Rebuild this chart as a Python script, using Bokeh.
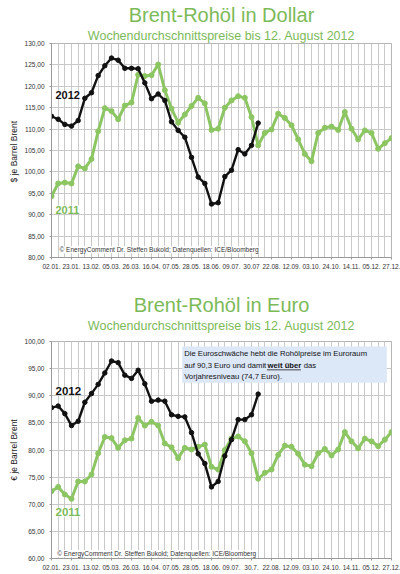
from bokeh.plotting import figure
from bokeh.models import Range1d, FixedTicker, Label, BoxAnnotation, Title
from bokeh.layouts import column
from bokeh.embed import file_html
from bokeh.resources import INLINE

# ---------------- data ----------------
weeks = list(range(52))

usd_2011 = [94.3, 97.3, 97.5, 97.3, 101.3, 100.8, 103.0, 109.5, 114.9, 114.2,
            112.3, 115.5, 116.2, 122.7, 122.4, 122.6, 125.1, 119.1, 114.8, 111.5,
            113.4, 115.4, 117.3, 116.0, 109.8, 110.1, 115.0, 116.7, 117.7, 117.3,
            112.8, 106.2, 109.1, 109.9, 113.6, 112.6, 110.9, 107.6, 104.2, 102.5,
            109.1, 110.3, 110.6, 109.8, 114.0, 110.1, 107.6, 109.7, 109.1, 105.4,
            106.7, 107.9]
usd_2012 = [113.0, 112.3, 111.1, 110.7, 112.0, 117.2, 118.5, 122.5, 124.8, 126.6,
            126.1, 124.2, 124.2, 124.1, 120.8, 117.1, 118.2, 116.7, 111.7, 109.7,
            108.1, 103.4, 98.8, 97.3, 92.5, 92.8, 98.9, 100.4, 105.2, 104.2,
            106.2, 111.4]

eur_2011 = [72.4, 73.2, 71.8, 71.0, 74.2, 74.2, 75.5, 79.4, 82.4, 82.2,
            80.4, 81.8, 82.1, 85.9, 84.5, 85.2, 84.5, 81.2, 80.5, 78.5,
            80.4, 80.1, 80.6, 81.0, 76.9, 76.4, 80.0, 82.1, 82.5, 81.6,
            79.4, 74.7, 75.8, 76.4, 79.1, 80.8, 80.6, 79.3, 77.3, 77.0,
            79.4, 80.2, 79.0, 80.1, 83.3, 81.6, 80.3, 82.1, 81.6, 80.7,
            81.9, 83.3]
eur_2012 = [87.8, 88.1, 86.7, 84.5, 85.3, 88.8, 90.4, 92.1, 94.2, 96.4,
            96.1, 93.8, 93.2, 94.7, 92.2, 89.0, 89.2, 89.0, 86.5, 86.2,
            86.1, 83.2, 79.3, 77.5, 73.2, 74.2, 78.9, 81.9, 85.6, 85.6,
            86.5, 90.3]

x_tick_weeks = list(range(0, 52, 3))
x_labels_usd = ["02.01.", "23.01.", "13.02.", "05.03.", "26.03.", "16.04.",
                "07.05.", "28.05.", "18.06.", "09.07.", "30.07", "22.08.",
                "12.09.", "03.10.", "24.10.", "14.11.", "05.12.", "27.12."]
x_labels_eur = ["02.01.", "23.01.", "13.02.", "05.03.", "26.03.", "16.04.",
                "07.05.", "28.05.", "18.06.", "09.07.", "30.7.", "22.08.",
                "12.09.", "03.10.", "24.10.", "14.11.", "05.12.", "27.12."]
y_ticks_usd = [80, 85, 90, 95, 100, 105, 110, 115, 120, 125, 130]
y_ticks_eur = [60, 65, 70, 75, 80, 85, 90, 95, 100]

GREEN = "#8cc663"
TGREEN = "#7cba58"
FONT = "Liberation Sans"
GRID = "#c9c9c9"
CREDIT = "© EnergyComment Dr. Steffen Bukold; Datenquellen: ICE/Bloomberg"
SUBTITLE = "Wochendurchschnittspreise bis 12. August 2012"


def make_chart(title, ylabel, s2011, s2012, xlabels, yticks, height,
               border_left, border_top, border_bottom, spacer):
    p = figure(width=400, height=height, output_backend="svg",
               toolbar_location=None, x_range=Range1d(0, 51),
               y_range=Range1d(yticks[0], yticks[-1]),
               min_border_left=border_left, min_border_right=9,
               min_border_top=border_top, min_border_bottom=border_bottom)
    p.background_fill_color = "white"
    p.border_fill_color = "white"
    p.outline_line_color = "#b5b5b5"

    if spacer:
        p.add_layout(Title(text=" ", text_font=FONT, text_font_size="6px",
                           standoff=0), "above")
    p.add_layout(Title(text=SUBTITLE, text_font=FONT, text_font_size="12.5px",
                       text_font_style="normal", text_color=TGREEN,
                       align="center", standoff=2), "above")
    p.add_layout(Title(text=title, text_font=FONT, text_font_size="20px",
                       text_font_style="normal", text_color=TGREEN,
                       align="center", standoff=0), "above")

    p.xaxis.ticker = FixedTicker(ticks=x_tick_weeks, minor_ticks=weeks)
    p.xaxis.major_label_overrides = {w: l for w, l in zip(x_tick_weeks, xlabels)}
    p.xaxis.major_label_text_font = FONT
    p.xaxis.major_label_text_font_size = "6.5px"
    p.xaxis.major_label_text_color = "#333333"
    p.xaxis.major_tick_out = 2
    p.xaxis.major_tick_in = 0
    p.xaxis.minor_tick_line_color = None
    p.xaxis.major_label_standoff = 2
    p.xaxis.axis_line_color = "#9a9a9a"
    p.xaxis.major_tick_line_color = "#9a9a9a"

    p.yaxis.ticker = FixedTicker(ticks=yticks)
    p.yaxis.major_label_overrides = {v: f"{v:.2f}".replace(".", ",") for v in yticks}
    p.yaxis.major_label_text_font = FONT
    p.yaxis.major_label_text_font_size = "6.5px"
    p.yaxis.major_label_text_color = "#333333"
    p.yaxis.major_tick_out = 2
    p.yaxis.major_tick_in = 0
    p.yaxis.minor_tick_line_color = None
    p.yaxis.major_label_standoff = 5
    p.yaxis.axis_line_color = "#9a9a9a"
    p.yaxis.major_tick_line_color = "#9a9a9a"
    p.yaxis.axis_label = ylabel
    p.yaxis.axis_label_text_font = FONT
    p.yaxis.axis_label_text_font_size = "8.5px"
    p.yaxis.axis_label_text_font_style = "normal"
    p.yaxis.axis_label_text_color = "#222222"
    p.yaxis.axis_label_standoff = 3

    p.xgrid.grid_line_color = GRID
    p.xgrid.minor_grid_line_color = GRID
    p.ygrid.grid_line_color = GRID

    x11 = weeks[:len(s2011)]
    x12 = weeks[:len(s2012)]
    p.line(x11, s2011, line_color=GREEN, line_width=3)
    p.scatter(x11, s2011, size=5, fill_color=GREEN, line_color=GREEN)
    p.line(x12, s2012, line_color="#111111", line_width=2.4)
    p.scatter(x12, s2012, size=4.5, fill_color="#111111", line_color="#111111")
    return p


p1 = make_chart("Brent-Rohöl in Dollar", "$ je Barrel  Brent",
                usd_2011, usd_2012, x_labels_usd, y_ticks_usd,
                284, 51, 43, 27, False)
p1.add_layout(Label(x=0.6, y=118.0, text="2012", text_font=FONT,
                    text_font_size="11px", text_font_style="bold",
                    text_color="#111111", text_baseline="middle",
                    background_fill_color="white"))
p1.add_layout(Label(x=0.6, y=91.2, text="2011", text_font=FONT,
                    text_font_size="11px", text_font_style="bold",
                    text_color=TGREEN, text_baseline="middle",
                    background_fill_color="white"))
p1.add_layout(Label(x=1.2, y=81.8, text=CREDIT,
                    text_font=FONT, text_font_size="6.5px", text_color="#333333",
                    text_baseline="middle", background_fill_color="white"))

p2 = make_chart("Brent-Rohöl in Euro", "€ je Barrel Brent",
                eur_2011, eur_2012, x_labels_eur, y_ticks_eur,
                288, 49, 57, 12, True)
p2.add_layout(Label(x=0.6, y=90.9, text="2012", text_font=FONT,
                    text_font_size="11.5px", text_font_style="bold",
                    text_color="#111111", text_baseline="middle",
                    background_fill_color="white"))
p2.add_layout(Label(x=0.6, y=68.5, text="2011", text_font=FONT,
                    text_font_size="11.5px", text_font_style="bold",
                    text_color=TGREEN, text_baseline="middle",
                    background_fill_color="white"))
p2.add_layout(Label(x=0.85, y=60.9, text=CREDIT,
                    text_font=FONT, text_font_size="6.5px", text_color="#333333",
                    text_baseline="middle", background_fill_color="white"))

p2.add_layout(BoxAnnotation(left=19.6, right=50.3, bottom=92.4, top=99.1,
                            fill_color="#dce7f8", fill_alpha=1, line_color=None))
note_x = 19.9
note_font = "7.7px"
p2.add_layout(Label(x=note_x, y=97.87,
                    text="Die Euroschwäche hebt die Rohölpreise im Euroraum",
                    text_font=FONT, text_font_size=note_font, text_color="#111111",
                    text_baseline="middle"))
p2.add_layout(Label(x=note_x, y=95.58, text="auf 90,3 Euro und damit",
                    text_font=FONT, text_font_size=note_font, text_color="#111111",
                    text_baseline="middle"))
p2.add_layout(Label(x=note_x, y=95.58, x_offset=83.4, text="weit über",
                    text_font=FONT, text_font_size=note_font, text_font_style="bold",
                    text_color="#111111", text_baseline="middle"))
p2.add_layout(Label(x=note_x, y=95.58, x_offset=119.5, text="das",
                    text_font=FONT, text_font_size=note_font, text_color="#111111",
                    text_baseline="middle"))
p2.add_layout(BoxAnnotation(left=note_x + 83.4 / 6.71, right=note_x + 117.5 / 6.71,
                            bottom=94.68, top=94.86, fill_color="#111111",
                            fill_alpha=1, line_color=None))
p2.add_layout(Label(x=note_x, y=93.5, text="Vorjahresniveau (74,7 Euro).",
                    text_font=FONT, text_font_size=note_font, text_color="#111111",
                    text_baseline="middle"))

layout = column(p1, p2, spacing=0)
open("out.html", "w").write(file_html(layout, INLINE))
